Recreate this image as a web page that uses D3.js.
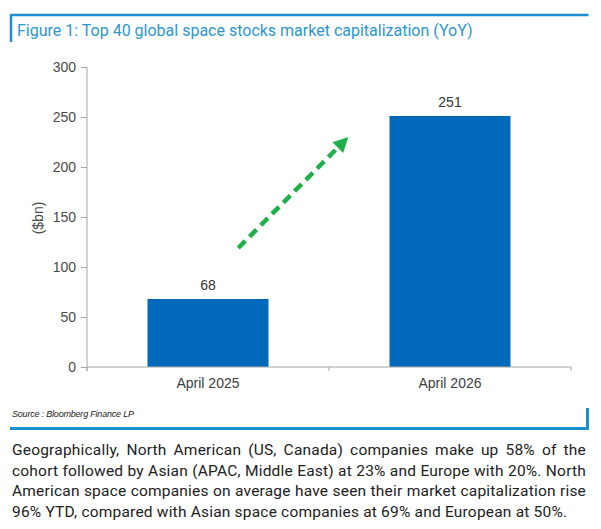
<!DOCTYPE html>
<html>
<head>
<meta charset="utf-8">
<script src="https://cdn.jsdelivr.net/npm/d3@7"></script>
<style>
  html, body { margin: 0; padding: 0; background: #fff; }
  #wrap { position: relative; width: 601px; height: 529px; overflow: hidden; }
  svg { position: absolute; left: 0; top: 0; }
  #para { position: absolute; left: 12px; top: 440px; width: 574px;
          font-family: Roboto, "Noto Sans", sans-serif; font-size: 15.5px; line-height: 20.7px; color: #222;
          letter-spacing: 0.2px; }
  #para div.j { text-align: justify; text-align-last: justify; white-space: nowrap; }
  #para div { white-space: nowrap; }
</style>
</head>
<body>
<div id="wrap">
<svg id="chart" width="601" height="529"></svg>
<div id="para"></div>
</div>
<script>
// ---- data ----
const categories = ["April 2025", "April 2026"];
const values = [68, 251];
const yTicks = [0, 50, 100, 150, 200, 250, 300];
const titleText = "Figure 1: Top 40 global space stocks market capitalization (YoY)";
const yLabel = "($bn)";
const sourceText = "Source : Bloomberg Finance LP";
const paragraphLines = [
  "Geographically, North American (US, Canada) companies make up 58% of the",
  "cohort followed by Asian (APAC, Middle East) at 23% and Europe with 20%. North",
  "American space companies on average have seen their market capitalization rise",
  "96% YTD, compared with Asian space companies at 69% and European at 50%."
];
// arrow annotation endpoints in data terms: [band position fraction, value]
const arrowFrom = [0.625, 119];
const arrowTo = [1.08, 230];

// ---- layout ----
const svg = d3.select("#chart");
const blue = "#1b8fcf";
const axisCol = "#a6a6a6";
const font = "Liberation Sans, Arial, sans-serif";

// title frame
svg.append("line").attr("x1", 10).attr("x2", 588.5).attr("y1", 15).attr("y2", 15)
  .attr("stroke", blue).attr("stroke-width", 2.5);
svg.append("line").attr("x1", 11).attr("x2", 11).attr("y1", 14).attr("y2", 42)
  .attr("stroke", blue).attr("stroke-width", 2.5);
svg.append("text").attr("x", 17).attr("y", 36).text(titleText)
  .attr("font-family", "Roboto, sans-serif").attr("font-size", 16).attr("fill", "#2a97d0");

const x = d3.scaleBand().domain(categories).range([87, 571]).paddingInner(0.5).paddingOuter(0.25);
const y = d3.scaleLinear().domain([0, 300]).range([367, 67]);

// y axis
const yAxis = svg.append("g").attr("transform", "translate(87,0)")
  .call(d3.axisLeft(y).tickValues(yTicks).tickSize(6).tickPadding(5));
yAxis.select(".domain").attr("stroke", axisCol).attr("d", "M0,67V371");
yAxis.selectAll(".tick line").attr("stroke", axisCol);
yAxis.selectAll(".tick text").attr("font-family", font)
  .attr("font-size", 14).attr("fill", "#4a4a4a");

// bars
svg.selectAll("rect.bar").data(values).join("rect").attr("class", "bar")
  .attr("x", (d, i) => x(categories[i])).attr("width", x.bandwidth())
  .attr("y", d => y(d)).attr("height", d => y(0) - y(d))
  .attr("fill", "#0069b9");

// value labels
svg.selectAll("text.val").data(values).join("text").attr("class", "val")
  .attr("x", (d, i) => x(categories[i]) + x.bandwidth() / 2)
  .attr("y", d => y(d) - 9).attr("text-anchor", "middle")
  .attr("font-family", font).attr("font-size", 14).attr("fill", "#333")
  .text(d => d);

// x axis
const step = x.step();
const bounds = [87, 87 + step, 87 + 2 * step];
svg.append("line").attr("x1", 87).attr("x2", 571).attr("y1", 367).attr("y2", 367)
  .attr("stroke", axisCol).attr("stroke-width", 1);
svg.selectAll("line.xt").data(bounds).join("line").attr("class", "xt")
  .attr("x1", d => d).attr("x2", d => d).attr("y1", 367).attr("y2", 371)
  .attr("stroke", axisCol);
svg.selectAll("text.xl").data(categories).join("text").attr("class", "xl")
  .attr("x", d => x(d) + x.bandwidth() / 2).attr("y", 388).attr("text-anchor", "middle")
  .attr("font-family", font).attr("font-size", 14).attr("fill", "#404040")
  .text(d => d);

// y label
svg.append("text").attr("transform", "translate(43,218) rotate(-90)")
  .attr("text-anchor", "middle").attr("font-family", font)
  .attr("font-size", 14).attr("fill", "#4a4a4a").text(yLabel);

// arrow
const ax = f => 87 + f * step;
const x1 = ax(arrowFrom[0]), y1 = y(arrowFrom[1]);
const x2 = ax(arrowTo[0]), y2 = y(arrowTo[1]);
const ang = Math.atan2(y2 - y1, x2 - x1);
const headLen = 15, headW = 7.5;
const bx = x2 - headLen * Math.cos(ang), by = y2 - headLen * Math.sin(ang);
const green = "#1fb04c";
svg.append("line").attr("x1", x1).attr("y1", y1).attr("x2", bx + 2 * Math.cos(ang)).attr("y2", by + 2 * Math.sin(ang))
  .attr("stroke", green).attr("stroke-width", 4.5).attr("stroke-dasharray", "10,6");
svg.append("path").attr("fill", green).attr("d",
  `M${x2},${y2}L${bx + headW * Math.sin(ang)},${by - headW * Math.cos(ang)}L${bx - headW * Math.sin(ang)},${by + headW * Math.cos(ang)}Z`);

// source and bottom frame
svg.append("text").attr("x", 12).attr("y", 417).text(sourceText)
  .attr("font-family", font).attr("font-style", "italic")
  .attr("font-size", 9).attr("fill", "#222").attr("letter-spacing", -0.2);
svg.append("line").attr("x1", 10).attr("x2", 588.5).attr("y1", 428.5).attr("y2", 428.5)
  .attr("stroke", blue).attr("stroke-width", 3);
svg.append("line").attr("x1", 587.5).attr("x2", 587.5).attr("y1", 408).attr("y2", 430)
  .attr("stroke", blue).attr("stroke-width", 3);

// paragraph
d3.select("#para").selectAll("div").data(paragraphLines).join("div")
  .attr("class", (d, i) => i < paragraphLines.length - 1 ? "j" : null)
  .text(d => d);
</script>
</body>
</html>
